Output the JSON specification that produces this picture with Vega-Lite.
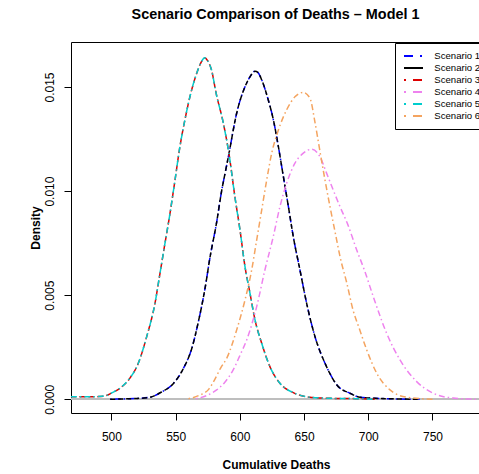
{
  "$schema": "https://vega.github.io/schema/vega-lite/v6.json",
  "autosize": {"type": "none"},
  "padding": {"left": 71, "top": 42, "right": 0, "bottom": 61},
  "width": 409,
  "height": 371,
  "background": "white",
  "title": {"text": "Scenario Comparison of Deaths – Model 1", "anchor": "middle", "frame": "group", "fontSize": 14.4, "fontWeight": "bold", "font": "Liberation Sans", "color": "black", "baseline": "alphabetic", "offset": 9},
  "config": {
    "font": "Liberation Sans",
    "view": {"stroke": "black", "strokeWidth": 1},
    "axis": {"domain": false, "grid": false, "tickColor": "black", "tickSize": 7, "labelColor": "black", "labelFontSize": 12, "labelFont": "Liberation Sans", "titleColor": "black", "titleFontSize": 12, "titleFontWeight": "bold", "titleFont": "Liberation Sans"},
    "legend": {"orient": "none", "legendX": 324, "legendY": 1, "symbolType": "stroke", "symbolSize": 361, "symbolStrokeWidth": 2, "labelFontSize": 9.6, "labelFont": "Liberation Sans", "labelColor": "black", "clipHeight": 11.8, "rowPadding": 0, "padding": 7, "symbolOffset": 1, "labelOffset": 10.3, "strokeColor": "black", "fillColor": "white"}
  },
  "data": {"values": [
    {"s": "Scenario 3", "x": 468, "y": 0.00012}, {"s": "Scenario 3", "x": 480, "y": 0.00012}, {"s": "Scenario 3", "x": 490, "y": 0.00013}, {"s": "Scenario 3", "x": 496, "y": 0.00018}, {"s": "Scenario 3", "x": 500, "y": 0.0003}, {"s": "Scenario 3", "x": 506.6, "y": 0.00053}, {"s": "Scenario 3", "x": 514.4, "y": 0.00102}, {"s": "Scenario 3", "x": 520.9, "y": 0.00173}, {"s": "Scenario 3", "x": 527.4, "y": 0.003}, {"s": "Scenario 3", "x": 533.9, "y": 0.00461}, {"s": "Scenario 3", "x": 537.8, "y": 0.00605}, {"s": "Scenario 3", "x": 541.7, "y": 0.0075}, {"s": "Scenario 3", "x": 545.6, "y": 0.00893}, {"s": "Scenario 3", "x": 549.5, "y": 0.01053}, {"s": "Scenario 3", "x": 553.3, "y": 0.01213}, {"s": "Scenario 3", "x": 557.2, "y": 0.01342}, {"s": "Scenario 3", "x": 561.1, "y": 0.01453}, {"s": "Scenario 3", "x": 566.4, "y": 0.01566}, {"s": "Scenario 3", "x": 570, "y": 0.0162}, {"s": "Scenario 3", "x": 572.5, "y": 0.0164}, {"s": "Scenario 3", "x": 575, "y": 0.01625}, {"s": "Scenario 3", "x": 578, "y": 0.0158}, {"s": "Scenario 3", "x": 581.5, "y": 0.0147}, {"s": "Scenario 3", "x": 587, "y": 0.0133}, {"s": "Scenario 3", "x": 591.5, "y": 0.0118}, {"s": "Scenario 3", "x": 596.2, "y": 0.0097}, {"s": "Scenario 3", "x": 600.1, "y": 0.00813}, {"s": "Scenario 3", "x": 604, "y": 0.00637}, {"s": "Scenario 3", "x": 607.9, "y": 0.00509}, {"s": "Scenario 3", "x": 611.8, "y": 0.00381}, {"s": "Scenario 3", "x": 617, "y": 0.00269}, {"s": "Scenario 3", "x": 623.4, "y": 0.00157}, {"s": "Scenario 3", "x": 631.2, "y": 0.00077}, {"s": "Scenario 3", "x": 641.6, "y": 0.00032}, {"s": "Scenario 3", "x": 654.6, "y": 0.0001}, {"s": "Scenario 3", "x": 670, "y": 0.00005}, {"s": "Scenario 3", "x": 690, "y": 0.00003}, {"s": "Scenario 3", "x": 705, "y": 0.0},

    {"s": "Scenario 5", "x": 468, "y": 0.00012}, {"s": "Scenario 5", "x": 480, "y": 0.00012}, {"s": "Scenario 5", "x": 490, "y": 0.00013}, {"s": "Scenario 5", "x": 496, "y": 0.00018}, {"s": "Scenario 5", "x": 500, "y": 0.0003}, {"s": "Scenario 5", "x": 506.6, "y": 0.00053}, {"s": "Scenario 5", "x": 514.4, "y": 0.00102}, {"s": "Scenario 5", "x": 520.9, "y": 0.00173}, {"s": "Scenario 5", "x": 527.4, "y": 0.003}, {"s": "Scenario 5", "x": 533.9, "y": 0.00461}, {"s": "Scenario 5", "x": 537.8, "y": 0.00605}, {"s": "Scenario 5", "x": 541.7, "y": 0.0075}, {"s": "Scenario 5", "x": 545.6, "y": 0.00893}, {"s": "Scenario 5", "x": 549.5, "y": 0.01053}, {"s": "Scenario 5", "x": 553.3, "y": 0.01213}, {"s": "Scenario 5", "x": 557.2, "y": 0.01342}, {"s": "Scenario 5", "x": 561.1, "y": 0.01453}, {"s": "Scenario 5", "x": 566.4, "y": 0.01566}, {"s": "Scenario 5", "x": 570, "y": 0.0162}, {"s": "Scenario 5", "x": 572.5, "y": 0.0164}, {"s": "Scenario 5", "x": 575, "y": 0.01625}, {"s": "Scenario 5", "x": 578, "y": 0.0158}, {"s": "Scenario 5", "x": 581.5, "y": 0.0147}, {"s": "Scenario 5", "x": 587, "y": 0.0133}, {"s": "Scenario 5", "x": 591.5, "y": 0.0118}, {"s": "Scenario 5", "x": 596.2, "y": 0.0097}, {"s": "Scenario 5", "x": 600.1, "y": 0.00813}, {"s": "Scenario 5", "x": 604, "y": 0.00637}, {"s": "Scenario 5", "x": 607.9, "y": 0.00509}, {"s": "Scenario 5", "x": 611.8, "y": 0.00381}, {"s": "Scenario 5", "x": 617, "y": 0.00269}, {"s": "Scenario 5", "x": 623.4, "y": 0.00157}, {"s": "Scenario 5", "x": 631.2, "y": 0.00077}, {"s": "Scenario 5", "x": 641.6, "y": 0.00032}, {"s": "Scenario 5", "x": 654.6, "y": 0.0001}, {"s": "Scenario 5", "x": 670, "y": 0.00005}, {"s": "Scenario 5", "x": 690, "y": 0.00003}, {"s": "Scenario 5", "x": 705, "y": 0.0},

    {"s": "Scenario 1", "x": 499, "y": 0.0}, {"s": "Scenario 1", "x": 510, "y": 0.00002}, {"s": "Scenario 1", "x": 520, "y": 0.00004}, {"s": "Scenario 1", "x": 530, "y": 0.0001}, {"s": "Scenario 1", "x": 539, "y": 0.00035}, {"s": "Scenario 1", "x": 548.1, "y": 0.00075}, {"s": "Scenario 1", "x": 555.9, "y": 0.00147}, {"s": "Scenario 1", "x": 562.5, "y": 0.00243}, {"s": "Scenario 1", "x": 567.6, "y": 0.0037}, {"s": "Scenario 1", "x": 572.8, "y": 0.0053}, {"s": "Scenario 1", "x": 576.7, "y": 0.0068}, {"s": "Scenario 1", "x": 581.9, "y": 0.0085}, {"s": "Scenario 1", "x": 585.5, "y": 0.0099}, {"s": "Scenario 1", "x": 589.7, "y": 0.01123}, {"s": "Scenario 1", "x": 591.5, "y": 0.0118}, {"s": "Scenario 1", "x": 597.5, "y": 0.01374}, {"s": "Scenario 1", "x": 604, "y": 0.01501}, {"s": "Scenario 1", "x": 608, "y": 0.0155}, {"s": "Scenario 1", "x": 611.8, "y": 0.01576}, {"s": "Scenario 1", "x": 614, "y": 0.0157}, {"s": "Scenario 1", "x": 617, "y": 0.01534}, {"s": "Scenario 1", "x": 622.1, "y": 0.01438}, {"s": "Scenario 1", "x": 626.1, "y": 0.01342}, {"s": "Scenario 1", "x": 630, "y": 0.01213}, {"s": "Scenario 1", "x": 633.9, "y": 0.01069}, {"s": "Scenario 1", "x": 637.8, "y": 0.00925}, {"s": "Scenario 1", "x": 641.6, "y": 0.00781}, {"s": "Scenario 1", "x": 646.8, "y": 0.00621}, {"s": "Scenario 1", "x": 652, "y": 0.00461}, {"s": "Scenario 1", "x": 658.5, "y": 0.00301}, {"s": "Scenario 1", "x": 666.3, "y": 0.00173}, {"s": "Scenario 1", "x": 670, "y": 0.00125}, {"s": "Scenario 1", "x": 675.4, "y": 0.0007}, {"s": "Scenario 1", "x": 685.7, "y": 0.00029}, {"s": "Scenario 1", "x": 693.5, "y": 0.0001}, {"s": "Scenario 1", "x": 705, "y": 0.00005}, {"s": "Scenario 1", "x": 720, "y": 0.00002}, {"s": "Scenario 1", "x": 740, "y": 0.0},

    {"s": "Scenario 2", "x": 499, "y": 0.0}, {"s": "Scenario 2", "x": 510, "y": 0.00002}, {"s": "Scenario 2", "x": 520, "y": 0.00004}, {"s": "Scenario 2", "x": 530, "y": 0.0001}, {"s": "Scenario 2", "x": 539, "y": 0.00035}, {"s": "Scenario 2", "x": 548.1, "y": 0.00075}, {"s": "Scenario 2", "x": 555.9, "y": 0.00147}, {"s": "Scenario 2", "x": 562.5, "y": 0.00243}, {"s": "Scenario 2", "x": 567.6, "y": 0.0037}, {"s": "Scenario 2", "x": 572.8, "y": 0.0053}, {"s": "Scenario 2", "x": 576.7, "y": 0.0068}, {"s": "Scenario 2", "x": 581.9, "y": 0.0085}, {"s": "Scenario 2", "x": 585.5, "y": 0.0099}, {"s": "Scenario 2", "x": 589.7, "y": 0.01123}, {"s": "Scenario 2", "x": 591.5, "y": 0.0118}, {"s": "Scenario 2", "x": 597.5, "y": 0.01374}, {"s": "Scenario 2", "x": 604, "y": 0.01501}, {"s": "Scenario 2", "x": 608, "y": 0.0155}, {"s": "Scenario 2", "x": 611.8, "y": 0.01576}, {"s": "Scenario 2", "x": 614, "y": 0.0157}, {"s": "Scenario 2", "x": 617, "y": 0.01534}, {"s": "Scenario 2", "x": 622.1, "y": 0.01438}, {"s": "Scenario 2", "x": 626.1, "y": 0.01342}, {"s": "Scenario 2", "x": 630, "y": 0.01213}, {"s": "Scenario 2", "x": 633.9, "y": 0.01069}, {"s": "Scenario 2", "x": 637.8, "y": 0.00925}, {"s": "Scenario 2", "x": 641.6, "y": 0.00781}, {"s": "Scenario 2", "x": 646.8, "y": 0.00621}, {"s": "Scenario 2", "x": 652, "y": 0.00461}, {"s": "Scenario 2", "x": 658.5, "y": 0.00301}, {"s": "Scenario 2", "x": 666.3, "y": 0.00173}, {"s": "Scenario 2", "x": 670, "y": 0.00125}, {"s": "Scenario 2", "x": 675.4, "y": 0.0007}, {"s": "Scenario 2", "x": 685.7, "y": 0.00029}, {"s": "Scenario 2", "x": 693.5, "y": 0.0001}, {"s": "Scenario 2", "x": 705, "y": 0.00005}, {"s": "Scenario 2", "x": 720, "y": 0.00002}, {"s": "Scenario 2", "x": 740, "y": 0.0},

    {"s": "Scenario 6", "x": 560, "y": 0.00003}, {"s": "Scenario 6", "x": 568, "y": 0.00018}, {"s": "Scenario 6", "x": 576, "y": 0.0005}, {"s": "Scenario 6", "x": 580, "y": 0.0009}, {"s": "Scenario 6", "x": 585, "y": 0.0015}, {"s": "Scenario 6", "x": 590, "y": 0.002}, {"s": "Scenario 6", "x": 597.5, "y": 0.00333}, {"s": "Scenario 6", "x": 604, "y": 0.00477}, {"s": "Scenario 6", "x": 609.2, "y": 0.00621}, {"s": "Scenario 6", "x": 613.1, "y": 0.00765}, {"s": "Scenario 6", "x": 617, "y": 0.00909}, {"s": "Scenario 6", "x": 620.9, "y": 0.01053}, {"s": "Scenario 6", "x": 624.8, "y": 0.01182}, {"s": "Scenario 6", "x": 630, "y": 0.01293}, {"s": "Scenario 6", "x": 636.4, "y": 0.0139}, {"s": "Scenario 6", "x": 642.9, "y": 0.01453}, {"s": "Scenario 6", "x": 649.4, "y": 0.01474}, {"s": "Scenario 6", "x": 654.6, "y": 0.01446}, {"s": "Scenario 6", "x": 658.5, "y": 0.0133}, {"s": "Scenario 6", "x": 662.4, "y": 0.0119}, {"s": "Scenario 6", "x": 666.3, "y": 0.01053}, {"s": "Scenario 6", "x": 670.2, "y": 0.00925}, {"s": "Scenario 6", "x": 674.1, "y": 0.00805}, {"s": "Scenario 6", "x": 678, "y": 0.00685}, {"s": "Scenario 6", "x": 683.2, "y": 0.0056}, {"s": "Scenario 6", "x": 688.3, "y": 0.00425}, {"s": "Scenario 6", "x": 693, "y": 0.0034}, {"s": "Scenario 6", "x": 698.8, "y": 0.00237}, {"s": "Scenario 6", "x": 706.6, "y": 0.00125}, {"s": "Scenario 6", "x": 716.9, "y": 0.00045}, {"s": "Scenario 6", "x": 729.9, "y": 0.0001}, {"s": "Scenario 6", "x": 750, "y": 0.0},

    {"s": "Scenario 4", "x": 566, "y": 0.00003}, {"s": "Scenario 4", "x": 575, "y": 0.0002}, {"s": "Scenario 4", "x": 581.9, "y": 0.00045}, {"s": "Scenario 4", "x": 588, "y": 0.0008}, {"s": "Scenario 4", "x": 594.8, "y": 0.00141}, {"s": "Scenario 4", "x": 600, "y": 0.0021}, {"s": "Scenario 4", "x": 605.3, "y": 0.00285}, {"s": "Scenario 4", "x": 613.1, "y": 0.00445}, {"s": "Scenario 4", "x": 619.5, "y": 0.00621}, {"s": "Scenario 4", "x": 626, "y": 0.00781}, {"s": "Scenario 4", "x": 631.2, "y": 0.00925}, {"s": "Scenario 4", "x": 636.4, "y": 0.01037}, {"s": "Scenario 4", "x": 642.9, "y": 0.01134}, {"s": "Scenario 4", "x": 649.4, "y": 0.01182}, {"s": "Scenario 4", "x": 655.9, "y": 0.01201}, {"s": "Scenario 4", "x": 662.4, "y": 0.01165}, {"s": "Scenario 4", "x": 667.6, "y": 0.01085}, {"s": "Scenario 4", "x": 672.7, "y": 0.01005}, {"s": "Scenario 4", "x": 678, "y": 0.00925}, {"s": "Scenario 4", "x": 684, "y": 0.0084}, {"s": "Scenario 4", "x": 691, "y": 0.00717}, {"s": "Scenario 4", "x": 697, "y": 0.0062}, {"s": "Scenario 4", "x": 703.9, "y": 0.00493}, {"s": "Scenario 4", "x": 714.3, "y": 0.00317}, {"s": "Scenario 4", "x": 724.7, "y": 0.00189}, {"s": "Scenario 4", "x": 737.7, "y": 0.00085}, {"s": "Scenario 4", "x": 750.6, "y": 0.00029}, {"s": "Scenario 4", "x": 766.2, "y": 0.00006}, {"s": "Scenario 4", "x": 786, "y": 0.0}
  ]},
  "encoding": {
    "x": {"field": "x", "type": "quantitative", "scale": {"domain": [468.5, 787], "nice": false, "zero": false},
      "axis": {"values": [500, 550, 600, 650, 700, 750], "labelBaseline": "alphabetic", "labelPadding": 20, "title": "Cumulative Deaths", "titleBaseline": "alphabetic", "titleX": 205, "titleY": 55, "titleAnchor": null, "titleAlign": "center"}},
    "y": {"field": "y", "type": "quantitative", "scale": {"domain": [-0.000658, 0.01716], "nice": false, "zero": false},
      "axis": {"values": [0, 0.005, 0.01, 0.015], "format": ".3f", "labelAngle": -90, "labelAlign": "center", "labelBaseline": "alphabetic", "labelPadding": 10.5, "title": "Density", "titleAngle": -90, "titleBaseline": "alphabetic", "titleAlign": "center", "titleX": -32, "titleY": 185.5}},
    "color": {"field": "s", "type": "nominal", "scale": {"domain": ["Scenario 1", "Scenario 2", "Scenario 3", "Scenario 4", "Scenario 5", "Scenario 6"], "range": ["#0000FF", "#000000", "#DD0000", "#EE82EE", "#00CDCD", "#F4A460"]}, "legend": {"title": null}}
  },
  "layer": [
    {"mark": {"type": "rule", "color": "#BEBEBE", "strokeWidth": 1}, "encoding": {"y": {"datum": 0}, "x": null, "color": null}},
    {"transform": [{"window": [{"op": "row_number", "as": "rn"}], "groupby": ["s"]}, {"filter": "datum.rn == 1"}],
     "mark": {"type": "line", "strokeWidth": 2, "clip": true},
     "encoding": {"strokeDash": {"field": "s", "type": "nominal", "scale": {"domain": ["Scenario 1", "Scenario 2", "Scenario 3", "Scenario 4", "Scenario 5", "Scenario 6"], "range": [[9, 7, 2, 7], [1, 0], [2, 7, 9, 7], [2, 7, 9, 7], [2, 7, 9, 7], [2, 7, 9, 7]]}, "legend": {"title": null}}}},
    {"transform": [{"filter": "datum.s == 'Scenario 1'"}], "mark": {"type": "line", "strokeWidth": 1.5, "interpolate": "monotone", "clip": true, "strokeDash": [1.5, 3, 6, 3]}},
    {"transform": [{"filter": "datum.s == 'Scenario 2'"}], "mark": {"type": "line", "strokeWidth": 1.5, "interpolate": "monotone", "clip": true, "strokeDash": [5, 3]}},
    {"transform": [{"filter": "datum.s == 'Scenario 3'"}], "mark": {"type": "line", "strokeWidth": 1.5, "interpolate": "monotone", "clip": true, "strokeDash": [6, 3]}},
    {"transform": [{"filter": "datum.s == 'Scenario 5'"}], "mark": {"type": "line", "strokeWidth": 1.5, "interpolate": "monotone", "clip": true, "strokeDash": [1.5, 3, 6, 3], "strokeDashOffset": 4}},
    {"transform": [{"filter": "datum.s == 'Scenario 4'"}], "mark": {"type": "line", "strokeWidth": 1.5, "interpolate": "monotone", "clip": true, "strokeDash": [1.5, 3, 6, 3]}},
    {"transform": [{"filter": "datum.s == 'Scenario 6'"}], "mark": {"type": "line", "strokeWidth": 1.5, "interpolate": "monotone", "clip": true, "strokeDash": [1.5, 3, 6, 3]}}
  ]
}
